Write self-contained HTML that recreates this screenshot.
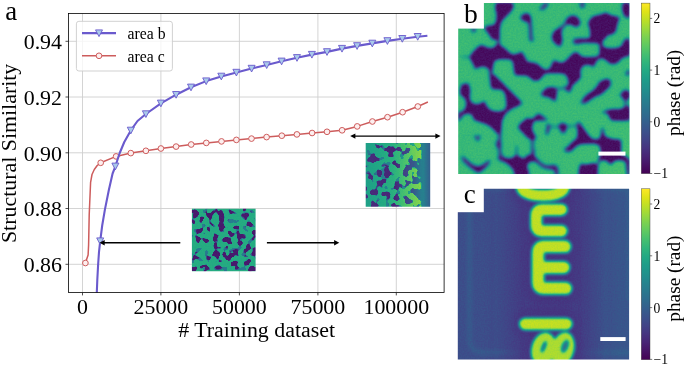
<!DOCTYPE html>
<html><head><meta charset="utf-8"><title>figure</title>
<style>
html,body{margin:0;padding:0;background:#fff;}
body{width:685px;height:365px;overflow:hidden;position:relative;font-family:"Liberation Serif",serif;}
svg{position:absolute;left:0;top:0;}
text{font-family:"Liberation Serif",serif;fill:#000;}
</style></head><body>
<svg width="685" height="365" viewBox="0 0 685 365">
<defs>
<linearGradient id="vir" x1="0" y1="1" x2="0" y2="0">
<stop offset="0.000" stop-color="#440154"/><stop offset="0.050" stop-color="#471365"/><stop offset="0.100" stop-color="#482475"/><stop offset="0.150" stop-color="#463480"/><stop offset="0.200" stop-color="#414487"/><stop offset="0.250" stop-color="#3b528b"/><stop offset="0.300" stop-color="#355f8d"/><stop offset="0.350" stop-color="#2f6c8e"/><stop offset="0.400" stop-color="#2a788e"/><stop offset="0.450" stop-color="#25848e"/><stop offset="0.500" stop-color="#21918c"/><stop offset="0.550" stop-color="#1e9c89"/><stop offset="0.600" stop-color="#22a884"/><stop offset="0.650" stop-color="#2fb47c"/><stop offset="0.700" stop-color="#44bf70"/><stop offset="0.750" stop-color="#5ec962"/><stop offset="0.800" stop-color="#7ad151"/><stop offset="0.850" stop-color="#9bd93c"/><stop offset="0.900" stop-color="#bddf26"/><stop offset="0.950" stop-color="#dfe318"/><stop offset="1.000" stop-color="#fde725"/>
</linearGradient>
<filter id="cmC" x="0" y="0" width="1" height="1" filterUnits="objectBoundingBox" color-interpolation-filters="sRGB"><feGaussianBlur in="SourceGraphic" stdDeviation="1.45" result="bl"/><feTurbulence type="fractalNoise" baseFrequency="0.70" numOctaves="2" seed="3" result="nz"/><feColorMatrix in="nz" type="matrix" values="0.060 0 0 0 0.470  0.060 0 0 0 0.470  0.060 0 0 0 0.470  0 0 0 0 1" result="nz2"/><feComposite in="bl" in2="nz2" operator="arithmetic" k1="0" k2="1" k3="1" k4="-0.5" result="bl2"/><feComponentTransfer><feFuncR type="table" tableValues="0.267 0.277 0.282 0.283 0.279 0.271 0.259 0.245 0.230 0.214 0.199 0.186 0.173 0.161 0.149 0.138 0.128 0.121 0.121 0.132 0.158 0.197 0.246 0.304 0.369 0.440 0.516 0.596 0.678 0.762 0.846 0.926 0.993"/><feFuncG type="table" tableValues="0.005 0.050 0.095 0.136 0.175 0.214 0.252 0.288 0.322 0.356 0.388 0.419 0.449 0.479 0.508 0.537 0.567 0.596 0.626 0.655 0.684 0.712 0.739 0.765 0.789 0.811 0.831 0.849 0.864 0.876 0.887 0.897 0.906"/><feFuncB type="table" tableValues="0.329 0.376 0.417 0.453 0.483 0.507 0.525 0.537 0.546 0.551 0.555 0.557 0.558 0.558 0.557 0.555 0.551 0.544 0.533 0.520 0.502 0.479 0.452 0.420 0.383 0.341 0.294 0.243 0.190 0.137 0.100 0.104 0.144"/><feFuncA type="linear" slope="0" intercept="1"/></feComponentTransfer></filter><clipPath id="clipC"><rect x="457.8" y="188.7" width="171.3" height="170.9"/></clipPath><filter id="haloC" x="-0.5" y="-0.5" width="2" height="2"><feGaussianBlur stdDeviation="3.2"/></filter><filter id="bandC" x="-1" y="-0.2" width="3" height="1.4"><feGaussianBlur stdDeviation="11"/></filter><filter id="frameC" x="-0.2" y="-0.2" width="1.4" height="1.4"><feGaussianBlur stdDeviation="1.6"/></filter><linearGradient id="bgC" x1="0" y1="0" x2="1" y2="0"><stop offset="0" stop-color="#3b3b3b"/><stop offset="0.5" stop-color="#3e3e3e"/><stop offset="1" stop-color="#444444"/></linearGradient><filter id="cmB" x="0" y="0" width="1" height="1" filterUnits="objectBoundingBox" color-interpolation-filters="sRGB"><feGaussianBlur in="SourceGraphic" stdDeviation="0.90" result="bl"/><feTurbulence type="fractalNoise" baseFrequency="0.60" numOctaves="2" seed="5" result="nz"/><feColorMatrix in="nz" type="matrix" values="0.080 0 0 0 0.460  0.080 0 0 0 0.460  0.080 0 0 0 0.460  0 0 0 0 1" result="nz2"/><feComposite in="bl" in2="nz2" operator="arithmetic" k1="0" k2="1" k3="1" k4="-0.5" result="bl2"/><feComponentTransfer><feFuncR type="table" tableValues="0.267 0.277 0.282 0.283 0.279 0.271 0.259 0.245 0.230 0.214 0.199 0.186 0.173 0.161 0.149 0.138 0.128 0.121 0.121 0.132 0.158 0.197 0.246 0.304 0.369 0.440 0.516 0.596 0.678 0.762 0.846 0.926 0.993"/><feFuncG type="table" tableValues="0.005 0.050 0.095 0.136 0.175 0.214 0.252 0.288 0.322 0.356 0.388 0.419 0.449 0.479 0.508 0.537 0.567 0.596 0.626 0.655 0.684 0.712 0.739 0.765 0.789 0.811 0.831 0.849 0.864 0.876 0.887 0.897 0.906"/><feFuncB type="table" tableValues="0.329 0.376 0.417 0.453 0.483 0.507 0.525 0.537 0.546 0.551 0.555 0.557 0.558 0.558 0.557 0.555 0.551 0.544 0.533 0.520 0.502 0.479 0.452 0.420 0.383 0.341 0.294 0.243 0.190 0.137 0.100 0.104 0.144"/><feFuncA type="linear" slope="0" intercept="1"/></feComponentTransfer></filter><clipPath id="clipB"><rect x="458.2" y="3.0" width="171.3" height="171.0"/></clipPath><clipPath id="clipBt"><rect x="440" y="75" width="210" height="9"/></clipPath><clipPath id="clipBtt"><rect x="440" y="-10" width="210" height="85"/></clipPath><clipPath id="clipBb"><rect x="440" y="84" width="210" height="110"/></clipPath><filter id="thB" x="0" y="0" width="1" height="1" color-interpolation-filters="sRGB"><feGaussianBlur stdDeviation="1.5"/><feComponentTransfer><feFuncR type="linear" slope="1.90" intercept="-0.735"/><feFuncG type="linear" slope="1.90" intercept="-0.735"/><feFuncB type="linear" slope="1.90" intercept="-0.735"/><feFuncA type="linear" slope="0" intercept="1"/></feComponentTransfer></filter><mask id="mB" maskUnits="userSpaceOnUse" x="450.2" y="-5.0" width="187.3" height="187.0"><g filter="url(#thB)"><rect x="450.2" y="-5.0" width="187.3" height="187.0" fill="#fff"/><g clip-path="url(#clipBt)"><g fill="#000" stroke="#000" stroke-width="1.0" stroke-linejoin="round"><path d="M495.1 3.0 512.9 3.0 512.2 8.5 508.3 14.2 503.3 18.6 500.1 24.1 499.4 33.4 500.1 42.0 502.0 47.5 497.0 48.3 497.0 42.8 495.5 38.1 491.6 35.0 486.9 33.4 484.1 31.9 484.1 24.9 486.9 23.0 491.6 23.0 496.2 20.9 498.0 16.3 497.0 9.2z"/><path d="M497.0 48.0 502.0 47.5 504.8 49.8 510.3 53.7 518.1 53.3 522.0 55.3 525.1 60.0 509.5 60.0 507.9 57.9 501.7 57.6 495.5 58.4 493.1 60.0 459.6 60.0 460.3 56.8 465.0 55.3 470.5 52.9 475.2 49.0 479.9 45.9 483.8 45.1 487.7 48.3 493.1 49.4z"/><path d="M524.3 15.8 527.8 14.7 529.8 18.6 530.7 26.4 532.3 34.2 535.6 39.7 533.2 41.6 529.2 38.1 527.5 31.1 526.7 23.3 524.6 19.4z"/><path d="M539.2 10.0 544.0 5.3 544.0 3.0 545.4 3.0 545.4 10.8 541.5 12.4z"/><path d="M544.0 3.0 549.5 3.0 547.9 7.7 544.0 10.8z"/><path d="M590.8 18.6 595.5 16.3 603.3 14.7 609.6 13.1 614.2 15.5 618.1 17.8 620.5 12.4 621.6 7.7 622.0 3.0 631.4 3.0 631.4 17.4 625.2 18.1 620.5 18.6 617.0 23.3 615.0 29.5 611.9 32.7 605.7 34.2 602.1 38.1 601.4 42.8 604.1 47.0 609.6 48.9 617.4 48.6 622.8 45.9 625.9 43.9 631.4 43.3 631.4 54.8 625.2 55.6 620.5 57.2 618.9 60.0 607.2 60.0 605.7 57.6 602.1 60.7 601.1 52.9 601.1 44.4 597.8 41.2 593.2 39.7 590.8 36.6 591.6 31.1 591.1 24.9z"/><path d="M564.3 20.2 569.0 17.4 575.2 17.0 579.1 19.4 580.7 22.5 577.6 24.1 575.2 26.4 571.3 24.9 567.4 24.1 562.7 25.6 560.1 29.5 559.6 34.2 561.2 38.1 561.9 42.0 560.4 45.9 558.8 47.5 555.7 45.9 553.4 42.0 552.6 36.6 553.4 31.9 556.5 28.0 560.4 23.3z"/><path d="M574.4 39.2 577.6 39.2 578.0 42.5 574.7 42.8z"/><path d="M569.0 60.0 569.8 55.3 572.9 52.2 576.5 51.1 579.1 53.7 582.2 60.7 589.3 56.5 595.5 56.8 597.8 58.4 596.3 60.0z"/><path d="M544.0 48.3 548.7 49.8 551.8 54.5 552.6 60.0 544.0 60.0z"/><path d="M472.8 60.0 493.1 60.0 492.6 66.2 493.6 71.7 493.1 75.6 490.0 75.6 490.0 69.4 486.1 66.6 482.2 65.6 478.3 66.2 474.4 65.5z"/><path d="M490.5 74.8 493.1 74.4 498.6 80.3 504.8 85.8 511.1 92.0 516.5 98.2 520.7 104.0 515.7 107.6 511.1 110.7 507.6 113.8 506.9 106.8 506.7 99.0 504.0 92.8 500.1 89.7 495.5 88.1 491.6 87.3 491.1 81.9z"/><path d="M460.8 89.7 464.2 85.8 468.1 83.7 472.0 85.0 474.4 88.4 471.3 91.2 469.7 95.9 470.2 100.9 472.8 104.5 477.5 106.5 483.8 106.0 486.1 108.4 489.2 111.5 494.7 117.7 500.1 113.8 502.5 115.4 502.5 117.0 474.4 117.0 472.8 114.6 468.1 113.5 464.2 114.6 461.1 117.0 459.2 117.0 459.2 117.7 461.9 111.5 465.8 106.8 466.6 102.1 465.0 97.5 461.9 95.1 459.9 93.6z"/><path d="M512.6 60.0 515.0 66.2 518.9 70.9 525.1 74.0 529.8 76.4 533.7 80.0 538.4 80.0 541.5 76.4 544.0 74.8 544.0 69.4 537.6 65.5 531.4 62.3 526.7 60.0z"/><path d="M544.0 92.0 540.7 93.6 538.4 96.7 540.7 99.0 544.0 99.8z"/><path d="M544.0 117.7 540.7 114.3 538.4 117.0 544.0 117.0z"/><path d="M551.0 60.0 558.4 60.0 559.6 61.9 562.7 62.8 566.2 61.9 567.4 60.0 595.5 60.0 594.7 64.7 593.2 68.6 590.0 66.2 585.4 65.5 581.5 67.0 579.9 70.9 580.7 75.6 578.3 79.5 574.4 82.6 572.1 86.5 570.8 89.7 569.0 87.3 569.3 81.1 568.2 76.4 564.3 73.7 556.5 73.3 548.7 72.8 544.0 72.2 544.0 70.6 551.0 68.6 551.8 63.1z"/><path d="M544.0 87.8 550.2 86.8 555.7 88.1 557.3 91.2 555.7 95.1 554.9 99.8 552.6 102.9 547.9 104.5 544.0 103.7z"/><path d="M583.0 101.4 586.9 96.7 590.8 92.0 594.7 87.3 598.6 83.4 604.1 80.3 608.8 79.5 610.3 81.9 608.0 85.8 604.9 89.7 601.0 93.6 596.3 96.7 590.8 99.8 586.9 102.5 583.8 102.9z"/><path d="M631.4 88.9 625.2 90.4 622.0 93.6 621.3 98.2 622.8 102.9 625.9 106.0 631.4 106.8z"/><path d="M631.4 109.6 625.2 110.3 618.9 109.6 613.5 109.2 610.3 110.7 608.8 113.8 609.6 117.0 631.4 117.0z"/><path d="M607.2 60.0 608.8 62.3 612.7 63.4 616.6 62.3 617.7 60.0z"/><path d="M544.0 117.7 547.1 113.8 548.7 117.0 544.0 117.0z"/></g></g><g clip-path="url(#clipBtt)"><g fill="#000" stroke="#000" stroke-width="0.6" stroke-linejoin="round"><path d="M496.2 3.0 512.6 3.0 513.1 7.0 510.6 10.9 506.7 14.9 502.7 18.9 500.2 22.9 499.2 27.8 498.9 32.8 499.2 39.0 492.3 39.0 490.8 35.8 487.8 31.8 485.3 29.0 484.3 27.8 486.8 26.6 490.8 26.3 494.7 25.3 496.5 22.4 497.2 17.9 497.2 12.9 495.7 8.0z"/><path d="M470.9 28.6 476.4 28.6 473.7 32.8z"/><path d="M520.1 17.4 523.5 14.4 526.0 13.9 526.0 20.9 523.5 20.4z"/><path d="M526.0 13.4 529.0 14.4 530.5 17.9 530.0 22.4 528.0 21.4 526.0 20.9z"/><path d="M539.4 9.0 541.9 7.0 544.4 4.0 545.9 3.0 548.3 3.0 546.4 6.5 543.4 9.0 540.9 10.0z"/><path d="M580.1 3.0 584.6 3.0 583.6 7.0 582.1 7.5z"/><path d="M566.2 20.4 568.7 17.4 572.7 15.9 576.6 16.9 579.1 20.4 580.1 23.9 578.1 25.3 576.1 27.3 574.2 25.3 571.2 23.9 567.7 23.4 565.7 22.9z"/><path d="M552.3 39.0 553.0 34.3 555.3 30.8 559.3 28.3 562.7 25.3 565.7 22.9 567.7 23.4 565.2 25.3 562.2 28.3 560.8 31.8 561.0 35.8 561.7 39.0z"/><path d="M594.0 15.9 591.0 19.4 588.4 22.9 589.6 25.3 591.0 28.8 591.3 32.8 590.5 39.7 591.5 39.0 594.0 39.0z"/><path d="M588.8 23.4 591.8 18.4 596.8 16.1 601.7 15.1 605.7 12.9 608.7 14.9 612.6 16.4 616.6 16.9 619.6 17.9 617.1 21.9 616.1 26.8 615.1 31.8 611.7 33.8 606.7 34.8 603.7 39.7 601.7 39.0 592.8 39.0 591.8 39.7 591.0 31.8 590.3 27.8z"/><path d="M623.1 3.0 629.5 3.0 629.5 17.9 625.6 16.9 623.6 12.9 622.6 8.0z"/><path d="M579.9 3.0 583.8 3.0 582.9 7.5 581.4 8.0z"/><path d="M469.9 57.1 473.9 51.9 476.9 48.4 481.3 45.2 484.8 47.1 487.8 48.5 491.8 48.9 495.2 47.4 497.5 44.5 497.7 39.0 498.9 39.0 499.2 44.5 500.7 46.4 504.7 48.9 507.7 51.9 510.6 54.4 514.6 55.4 518.6 53.9 521.6 51.9 523.5 55.9 526.0 60.4 526.0 75.0 515.1 75.0 514.6 68.8 513.8 62.3 512.1 59.4 507.7 58.4 499.7 58.4 495.2 59.4 493.0 62.3 492.3 66.8 492.0 70.8 491.8 75.0 490.0 75.0 489.8 70.0 487.8 67.0 482.8 65.6 477.9 67.0 475.4 69.3 474.4 65.0 471.9 60.4z"/><path d="M552.8 39.0 561.7 39.0 561.3 43.0 560.3 46.4 557.8 45.0 554.8 42.5z"/><path d="M573.2 40.0 576.1 39.0 578.1 41.0 576.6 44.0 574.2 43.5z"/><path d="M530.0 39.0 533.4 39.0 532.5 41.2 530.5 41.0z"/><path d="M526.0 62.6 532.0 63.0 536.9 64.3 540.4 67.3 543.4 69.8 546.4 70.6 549.8 69.3 552.0 66.3 553.0 62.3 554.8 60.4 557.8 62.8 561.7 63.8 565.7 62.8 568.7 59.9 570.7 56.4 573.7 53.9 575.7 52.4 578.1 53.9 579.6 56.4 583.6 57.9 589.6 58.1 594.0 57.4 594.0 64.3 589.6 63.3 584.6 63.8 581.1 66.3 579.6 69.8 579.1 75.0 567.7 75.0 565.7 73.3 560.8 72.6 550.8 72.6 543.9 73.3 540.9 75.0 526.0 75.0z"/><path d="M576.9 39.0 601.7 39.0 601.7 44.5 600.2 45.0 599.5 43.2 596.8 42.2 581.9 42.2 579.1 43.5 576.9 42.0z"/><path d="M600.0 39.0 601.5 39.0 601.7 44.5 603.7 48.1 608.7 48.9 615.6 48.9 620.6 47.4 623.1 45.0 624.1 42.0 625.6 39.0 629.5 39.0 629.5 55.4 625.6 55.9 621.6 57.4 619.1 60.4 616.6 62.8 612.6 63.8 609.7 62.8 607.2 60.4 604.7 58.4 601.7 57.4 600.7 54.9 600.2 50.9 600.2 45.0z"/><path d="M562.0 63.8 565.0 62.3 568.0 59.4 570.7 56.4 573.7 53.9 575.7 52.4 578.2 53.9 579.7 56.4 583.6 57.9 589.6 58.1 594.8 57.9 600.2 54.9 601.7 57.4 598.7 58.4 596.3 60.4 594.3 63.8 593.6 67.3 591.8 65.0 587.8 63.8 583.8 64.6 580.9 66.8 579.4 70.8 578.9 75.0 567.0 75.0 566.0 73.3 562.0 72.6z"/><path d="M625.6 75.0 626.5 71.8 629.5 70.3 629.5 75.0z"/></g><path fill="none" stroke="#000" stroke-width="2.6" stroke-linecap="round" stroke-linejoin="round" d="M529.0 17.9 529.8 21.9 530.5 28.8 531.0 39.7 531.8 39.7"/><path fill="none" stroke="#777" stroke-width="1.8" stroke-linecap="round" stroke-linejoin="round" d="M461.0 57.1 469.9 57.1"/></g><g clip-path="url(#clipBb)"><g fill="#000" stroke="#000" stroke-width="0.6" stroke-linejoin="round"><path d="M462.5 84.0 467.9 84.0 469.1 88.0 469.7 91.4 468.9 95.4 469.4 100.4 471.9 103.7 475.4 105.1 479.4 104.7 482.3 102.9 484.3 100.9 485.3 104.9 487.8 108.8 491.8 111.5 497.7 112.5 502.7 111.6 506.2 109.0 507.2 105.4 506.9 100.4 506.2 95.4 504.7 91.7 502.2 89.2 497.7 88.5 492.8 88.8 491.3 87.0 491.3 84.0 502.7 84.0 507.7 89.0 513.6 94.9 518.6 99.9 522.1 103.4 517.6 105.4 512.6 107.5 507.7 111.0 503.9 115.0 501.7 120.0 475.4 120.0 474.9 120.7 472.9 114.3 468.9 112.8 465.0 113.3 462.0 115.3 460.5 118.3 460.0 120.0 458.0 120.0 458.0 113.3 459.5 112.6 462.0 112.3 465.4 109.8 466.9 105.8 466.7 100.9 465.0 97.4 462.0 95.4 460.5 93.9 460.8 90.0 461.5 87.0z"/><path d="M540.9 93.9 543.9 91.4 546.4 88.5 551.8 87.5 555.8 88.5 556.3 91.9 555.8 96.9 555.3 101.4 553.8 100.4 550.8 97.4 546.9 95.9 542.9 95.9z"/><path d="M564.2 88.0 567.7 86.0 570.2 84.0 572.2 84.0 571.2 88.0 569.7 92.4 567.2 90.5z"/><path d="M581.1 102.4 583.6 98.9 586.1 95.9 589.6 93.4 594.0 91.0 594.0 96.9 590.5 98.9 586.6 101.9 583.1 103.4z"/><path d="M526.0 118.3 532.0 120.7 535.9 116.3 538.9 113.8 541.9 116.3 545.9 118.8 547.8 120.0 526.0 120.0z"/><path d="M581.4 102.9 583.4 99.9 586.3 96.9 589.8 93.9 593.8 91.0 596.3 88.0 598.2 85.5 600.7 84.0 610.7 84.0 608.7 87.0 605.7 89.5 602.7 92.4 599.7 94.4 595.8 95.4 591.8 96.9 588.3 99.4 585.3 101.9 582.9 103.4z"/><path d="M620.1 94.9 623.1 91.9 625.6 90.0 628.0 91.0 629.5 92.9 629.5 96.9 627.5 98.9 625.6 101.4 624.1 98.9 622.1 96.4z"/><path d="M601.7 112.3 608.7 110.3 613.6 109.8 619.6 110.0 624.1 108.3 626.5 106.8 629.5 106.3 629.5 120.0 611.7 120.0 609.7 116.8 608.7 113.3z"/><path d="M475.4 118.0 501.2 118.0 501.0 125.0 500.5 131.9 497.7 133.4 494.9 130.1 491.8 127.1 487.8 124.2 482.8 122.2 477.9 120.7z"/><path d="M496.5 141.8 500.5 141.6 500.9 147.8 498.2 148.3 496.7 145.8z"/><path d="M474.4 136.4 480.3 135.9 477.9 141.3z"/><path d="M518.2 127.1 522.2 122.4 527.2 119.9 532.6 119.4 536.1 117.0 538.6 114.5 540.1 117.0 537.1 118.9 533.1 121.4 531.1 124.9 530.8 128.9 532.6 133.3 534.4 136.8 533.6 139.8 531.6 139.3 528.7 137.8 525.2 134.3 521.7 130.9z"/><path d="M526.0 120.0 530.0 119.5 532.2 123.0 531.0 127.4 531.8 131.9 534.7 135.7 535.9 137.9 533.4 139.4 530.5 137.9 528.0 136.4 526.0 135.9z"/><path d="M547.1 124.0 549.8 125.0 549.3 128.9 548.0 132.9 546.4 135.4 545.9 132.9 547.1 128.9z"/><path d="M558.8 125.4 562.7 123.0 566.7 125.4 565.7 129.9 563.2 133.9 560.8 129.9z"/><path d="M576.9 123.5 579.4 122.5 581.9 126.9 585.3 131.9 588.8 136.4 591.8 139.4 595.8 141.3 598.7 140.3 601.2 136.9 601.7 130.9 602.2 127.4 602.9 127.4 603.5 131.9 604.2 136.4 606.7 137.9 611.7 139.4 616.1 141.3 619.1 144.3 620.1 148.8 620.4 154.7 601.7 154.7 601.2 147.0 598.7 144.2 594.8 143.0 589.8 142.8 583.8 143.0 579.4 143.6 576.9 145.3 572.9 147.8 569.0 150.8 566.5 151.6 566.0 149.8 570.4 146.8 573.9 143.8 575.9 141.8 577.9 137.4 578.4 132.9 577.9 127.9z"/><path d="M610.7 118.0 629.5 118.0 629.5 119.0 617.6 119.2 611.7 118.8z"/><path d="M461.5 156.4 464.0 157.4 467.9 161.4 472.9 165.3 477.4 167.3 481.8 166.0 485.8 163.0 488.8 160.4 490.3 161.4 487.8 164.8 484.3 168.3 480.3 171.3 478.4 172.8 476.4 171.3 471.9 168.3 466.9 164.3 463.0 160.4z"/><path d="M499.7 154.9 502.2 157.4 505.7 158.9 510.6 159.4 515.1 157.9 517.1 154.9 518.6 157.4 522.5 159.1 526.0 159.4 526.0 176.7 516.6 176.7 515.1 169.8 511.6 166.0 507.7 163.0 503.7 161.1 500.2 159.9 498.2 158.4z"/><path d="M497.9 159.1 501.1 155.9 504.8 158.5 509.8 159.5 513.8 158.1 516.5 154.9 519.3 158.1 523.7 159.6 528.7 158.9 531.6 159.4 527.7 162.0 526.2 165.8 526.7 169.8 528.7 176.7 515.7 176.7 514.3 169.8 510.8 165.8 506.8 162.3 502.8 160.4z"/><path d="M526.0 156.4 531.0 154.9 533.9 156.4 536.9 158.9 540.9 163.3 545.9 166.0 550.8 166.0 554.8 165.3 557.3 167.3 558.3 176.7 555.8 176.7 555.3 170.3 551.8 168.8 545.9 168.3 540.9 166.0 536.9 162.3 533.9 160.4 530.0 161.4 526.0 162.8z"/><path d="M564.2 150.4 567.7 149.1 570.5 146.2 572.7 143.5 575.7 141.2 577.6 140.0 594.0 140.0 594.0 142.5 585.6 142.8 579.6 143.0 576.1 144.5 573.7 147.4 571.7 150.4 567.7 151.4z"/><path d="M579.1 176.7 579.6 168.8 581.6 165.8 585.6 165.3 589.6 164.8 594.0 163.3 594.0 176.7z"/><path d="M526.0 169.8 528.0 170.3 528.5 176.7 526.0 176.7z"/><path d="M575.9 140.0 620.6 140.0 620.1 151.7 601.7 151.7 601.7 147.0 599.7 144.0 596.8 142.8 577.9 142.5 573.9 144.5 570.9 147.9 568.0 149.9 565.5 150.4 565.0 148.9 569.0 146.5 571.9 143.0z"/><path d="M580.4 176.7 579.9 168.8 580.9 163.8 583.4 165.0 588.8 166.0 594.8 165.3 597.9 163.0 598.9 159.9 600.2 155.9 625.6 155.9 627.0 159.9 625.6 161.4 621.6 159.6 616.6 159.6 613.1 161.1 610.7 164.8 608.2 161.1 604.7 159.6 600.7 160.1 598.2 163.5 597.0 167.8 597.3 176.7z"/><path d="M627.0 159.4 629.5 158.9 629.5 176.7 627.5 176.7 626.5 165.8z"/></g><path fill="none" stroke="#555" stroke-width="2.0" stroke-linecap="round" stroke-linejoin="round" d="M555.8 89.0 564.2 88.2"/><path fill="none" stroke="#444" stroke-width="2.2" stroke-linecap="round" stroke-linejoin="round" d="M625.6 101.4 625.6 107.8"/><path fill="none" stroke="#111" stroke-width="2.5" stroke-linecap="round" stroke-linejoin="round" d="M499.7 131.9 499.8 137.9 498.9 142.3"/><path fill="none" stroke="#333" stroke-width="2.3" stroke-linecap="round" stroke-linejoin="round" d="M499.5 147.8 499.7 154.0"/><path fill="none" stroke="#333" stroke-width="2.3" stroke-linecap="round" stroke-linejoin="round" d="M499.7 147.9 500.7 154.9"/><path fill="none" stroke="#555" stroke-width="2.0" stroke-linecap="round" stroke-linejoin="round" d="M516.5 154.9 516.7 146.0"/><path fill="none" stroke="#444" stroke-width="2.2" stroke-linecap="round" stroke-linejoin="round" d="M531.6 158.9 534.1 152.9 532.6 146.0 532.8 140.0"/><path fill="none" stroke="#666" stroke-width="1.9" stroke-linecap="round" stroke-linejoin="round" d="M549.8 126.4 558.8 126.9"/><path fill="none" stroke="#666" stroke-width="1.9" stroke-linecap="round" stroke-linejoin="round" d="M566.7 126.4 577.6 125.9"/><path fill="none" stroke="#444" stroke-width="2.2" stroke-linecap="round" stroke-linejoin="round" d="M532.2 140.0 532.2 154.9"/><path fill="none" stroke="#bbb" stroke-width="1.5" stroke-linecap="round" stroke-linejoin="round" d="M463.0 136.4 463.0 154.0"/><path fill="none" stroke="#bbb" stroke-width="1.5" stroke-linecap="round" stroke-linejoin="round" d="M463.0 135.9 482.8 135.5"/></g></g></mask><filter id="thB2" x="0" y="0" width="1" height="1" color-interpolation-filters="sRGB"><feGaussianBlur stdDeviation="3.0"/><feComponentTransfer><feFuncR type="linear" slope="1.60" intercept="-0.780"/><feFuncG type="linear" slope="1.60" intercept="-0.780"/><feFuncB type="linear" slope="1.60" intercept="-0.780"/><feFuncA type="linear" slope="0" intercept="1"/></feComponentTransfer></filter><mask id="mB2" maskUnits="userSpaceOnUse" x="450.2" y="-5.0" width="187.3" height="187.0"><g filter="url(#thB2)"><rect x="450.2" y="-5.0" width="187.3" height="187.0" fill="#fff"/><g clip-path="url(#clipBt)"><g fill="#000" stroke="#000" stroke-width="1.0" stroke-linejoin="round"><path d="M495.1 3.0 512.9 3.0 512.2 8.5 508.3 14.2 503.3 18.6 500.1 24.1 499.4 33.4 500.1 42.0 502.0 47.5 497.0 48.3 497.0 42.8 495.5 38.1 491.6 35.0 486.9 33.4 484.1 31.9 484.1 24.9 486.9 23.0 491.6 23.0 496.2 20.9 498.0 16.3 497.0 9.2z"/><path d="M497.0 48.0 502.0 47.5 504.8 49.8 510.3 53.7 518.1 53.3 522.0 55.3 525.1 60.0 509.5 60.0 507.9 57.9 501.7 57.6 495.5 58.4 493.1 60.0 459.6 60.0 460.3 56.8 465.0 55.3 470.5 52.9 475.2 49.0 479.9 45.9 483.8 45.1 487.7 48.3 493.1 49.4z"/><path d="M524.3 15.8 527.8 14.7 529.8 18.6 530.7 26.4 532.3 34.2 535.6 39.7 533.2 41.6 529.2 38.1 527.5 31.1 526.7 23.3 524.6 19.4z"/><path d="M539.2 10.0 544.0 5.3 544.0 3.0 545.4 3.0 545.4 10.8 541.5 12.4z"/><path d="M544.0 3.0 549.5 3.0 547.9 7.7 544.0 10.8z"/><path d="M590.8 18.6 595.5 16.3 603.3 14.7 609.6 13.1 614.2 15.5 618.1 17.8 620.5 12.4 621.6 7.7 622.0 3.0 631.4 3.0 631.4 17.4 625.2 18.1 620.5 18.6 617.0 23.3 615.0 29.5 611.9 32.7 605.7 34.2 602.1 38.1 601.4 42.8 604.1 47.0 609.6 48.9 617.4 48.6 622.8 45.9 625.9 43.9 631.4 43.3 631.4 54.8 625.2 55.6 620.5 57.2 618.9 60.0 607.2 60.0 605.7 57.6 602.1 60.7 601.1 52.9 601.1 44.4 597.8 41.2 593.2 39.7 590.8 36.6 591.6 31.1 591.1 24.9z"/><path d="M564.3 20.2 569.0 17.4 575.2 17.0 579.1 19.4 580.7 22.5 577.6 24.1 575.2 26.4 571.3 24.9 567.4 24.1 562.7 25.6 560.1 29.5 559.6 34.2 561.2 38.1 561.9 42.0 560.4 45.9 558.8 47.5 555.7 45.9 553.4 42.0 552.6 36.6 553.4 31.9 556.5 28.0 560.4 23.3z"/><path d="M574.4 39.2 577.6 39.2 578.0 42.5 574.7 42.8z"/><path d="M569.0 60.0 569.8 55.3 572.9 52.2 576.5 51.1 579.1 53.7 582.2 60.7 589.3 56.5 595.5 56.8 597.8 58.4 596.3 60.0z"/><path d="M544.0 48.3 548.7 49.8 551.8 54.5 552.6 60.0 544.0 60.0z"/><path d="M472.8 60.0 493.1 60.0 492.6 66.2 493.6 71.7 493.1 75.6 490.0 75.6 490.0 69.4 486.1 66.6 482.2 65.6 478.3 66.2 474.4 65.5z"/><path d="M490.5 74.8 493.1 74.4 498.6 80.3 504.8 85.8 511.1 92.0 516.5 98.2 520.7 104.0 515.7 107.6 511.1 110.7 507.6 113.8 506.9 106.8 506.7 99.0 504.0 92.8 500.1 89.7 495.5 88.1 491.6 87.3 491.1 81.9z"/><path d="M460.8 89.7 464.2 85.8 468.1 83.7 472.0 85.0 474.4 88.4 471.3 91.2 469.7 95.9 470.2 100.9 472.8 104.5 477.5 106.5 483.8 106.0 486.1 108.4 489.2 111.5 494.7 117.7 500.1 113.8 502.5 115.4 502.5 117.0 474.4 117.0 472.8 114.6 468.1 113.5 464.2 114.6 461.1 117.0 459.2 117.0 459.2 117.7 461.9 111.5 465.8 106.8 466.6 102.1 465.0 97.5 461.9 95.1 459.9 93.6z"/><path d="M512.6 60.0 515.0 66.2 518.9 70.9 525.1 74.0 529.8 76.4 533.7 80.0 538.4 80.0 541.5 76.4 544.0 74.8 544.0 69.4 537.6 65.5 531.4 62.3 526.7 60.0z"/><path d="M544.0 92.0 540.7 93.6 538.4 96.7 540.7 99.0 544.0 99.8z"/><path d="M544.0 117.7 540.7 114.3 538.4 117.0 544.0 117.0z"/><path d="M551.0 60.0 558.4 60.0 559.6 61.9 562.7 62.8 566.2 61.9 567.4 60.0 595.5 60.0 594.7 64.7 593.2 68.6 590.0 66.2 585.4 65.5 581.5 67.0 579.9 70.9 580.7 75.6 578.3 79.5 574.4 82.6 572.1 86.5 570.8 89.7 569.0 87.3 569.3 81.1 568.2 76.4 564.3 73.7 556.5 73.3 548.7 72.8 544.0 72.2 544.0 70.6 551.0 68.6 551.8 63.1z"/><path d="M544.0 87.8 550.2 86.8 555.7 88.1 557.3 91.2 555.7 95.1 554.9 99.8 552.6 102.9 547.9 104.5 544.0 103.7z"/><path d="M583.0 101.4 586.9 96.7 590.8 92.0 594.7 87.3 598.6 83.4 604.1 80.3 608.8 79.5 610.3 81.9 608.0 85.8 604.9 89.7 601.0 93.6 596.3 96.7 590.8 99.8 586.9 102.5 583.8 102.9z"/><path d="M631.4 88.9 625.2 90.4 622.0 93.6 621.3 98.2 622.8 102.9 625.9 106.0 631.4 106.8z"/><path d="M631.4 109.6 625.2 110.3 618.9 109.6 613.5 109.2 610.3 110.7 608.8 113.8 609.6 117.0 631.4 117.0z"/><path d="M607.2 60.0 608.8 62.3 612.7 63.4 616.6 62.3 617.7 60.0z"/><path d="M544.0 117.7 547.1 113.8 548.7 117.0 544.0 117.0z"/></g></g><g clip-path="url(#clipBtt)"><g fill="#000" stroke="#000" stroke-width="0.6" stroke-linejoin="round"><path d="M496.2 3.0 512.6 3.0 513.1 7.0 510.6 10.9 506.7 14.9 502.7 18.9 500.2 22.9 499.2 27.8 498.9 32.8 499.2 39.0 492.3 39.0 490.8 35.8 487.8 31.8 485.3 29.0 484.3 27.8 486.8 26.6 490.8 26.3 494.7 25.3 496.5 22.4 497.2 17.9 497.2 12.9 495.7 8.0z"/><path d="M470.9 28.6 476.4 28.6 473.7 32.8z"/><path d="M520.1 17.4 523.5 14.4 526.0 13.9 526.0 20.9 523.5 20.4z"/><path d="M526.0 13.4 529.0 14.4 530.5 17.9 530.0 22.4 528.0 21.4 526.0 20.9z"/><path d="M539.4 9.0 541.9 7.0 544.4 4.0 545.9 3.0 548.3 3.0 546.4 6.5 543.4 9.0 540.9 10.0z"/><path d="M580.1 3.0 584.6 3.0 583.6 7.0 582.1 7.5z"/><path d="M566.2 20.4 568.7 17.4 572.7 15.9 576.6 16.9 579.1 20.4 580.1 23.9 578.1 25.3 576.1 27.3 574.2 25.3 571.2 23.9 567.7 23.4 565.7 22.9z"/><path d="M552.3 39.0 553.0 34.3 555.3 30.8 559.3 28.3 562.7 25.3 565.7 22.9 567.7 23.4 565.2 25.3 562.2 28.3 560.8 31.8 561.0 35.8 561.7 39.0z"/><path d="M594.0 15.9 591.0 19.4 588.4 22.9 589.6 25.3 591.0 28.8 591.3 32.8 590.5 39.7 591.5 39.0 594.0 39.0z"/><path d="M588.8 23.4 591.8 18.4 596.8 16.1 601.7 15.1 605.7 12.9 608.7 14.9 612.6 16.4 616.6 16.9 619.6 17.9 617.1 21.9 616.1 26.8 615.1 31.8 611.7 33.8 606.7 34.8 603.7 39.7 601.7 39.0 592.8 39.0 591.8 39.7 591.0 31.8 590.3 27.8z"/><path d="M623.1 3.0 629.5 3.0 629.5 17.9 625.6 16.9 623.6 12.9 622.6 8.0z"/><path d="M579.9 3.0 583.8 3.0 582.9 7.5 581.4 8.0z"/><path d="M469.9 57.1 473.9 51.9 476.9 48.4 481.3 45.2 484.8 47.1 487.8 48.5 491.8 48.9 495.2 47.4 497.5 44.5 497.7 39.0 498.9 39.0 499.2 44.5 500.7 46.4 504.7 48.9 507.7 51.9 510.6 54.4 514.6 55.4 518.6 53.9 521.6 51.9 523.5 55.9 526.0 60.4 526.0 75.0 515.1 75.0 514.6 68.8 513.8 62.3 512.1 59.4 507.7 58.4 499.7 58.4 495.2 59.4 493.0 62.3 492.3 66.8 492.0 70.8 491.8 75.0 490.0 75.0 489.8 70.0 487.8 67.0 482.8 65.6 477.9 67.0 475.4 69.3 474.4 65.0 471.9 60.4z"/><path d="M552.8 39.0 561.7 39.0 561.3 43.0 560.3 46.4 557.8 45.0 554.8 42.5z"/><path d="M573.2 40.0 576.1 39.0 578.1 41.0 576.6 44.0 574.2 43.5z"/><path d="M530.0 39.0 533.4 39.0 532.5 41.2 530.5 41.0z"/><path d="M526.0 62.6 532.0 63.0 536.9 64.3 540.4 67.3 543.4 69.8 546.4 70.6 549.8 69.3 552.0 66.3 553.0 62.3 554.8 60.4 557.8 62.8 561.7 63.8 565.7 62.8 568.7 59.9 570.7 56.4 573.7 53.9 575.7 52.4 578.1 53.9 579.6 56.4 583.6 57.9 589.6 58.1 594.0 57.4 594.0 64.3 589.6 63.3 584.6 63.8 581.1 66.3 579.6 69.8 579.1 75.0 567.7 75.0 565.7 73.3 560.8 72.6 550.8 72.6 543.9 73.3 540.9 75.0 526.0 75.0z"/><path d="M576.9 39.0 601.7 39.0 601.7 44.5 600.2 45.0 599.5 43.2 596.8 42.2 581.9 42.2 579.1 43.5 576.9 42.0z"/><path d="M600.0 39.0 601.5 39.0 601.7 44.5 603.7 48.1 608.7 48.9 615.6 48.9 620.6 47.4 623.1 45.0 624.1 42.0 625.6 39.0 629.5 39.0 629.5 55.4 625.6 55.9 621.6 57.4 619.1 60.4 616.6 62.8 612.6 63.8 609.7 62.8 607.2 60.4 604.7 58.4 601.7 57.4 600.7 54.9 600.2 50.9 600.2 45.0z"/><path d="M562.0 63.8 565.0 62.3 568.0 59.4 570.7 56.4 573.7 53.9 575.7 52.4 578.2 53.9 579.7 56.4 583.6 57.9 589.6 58.1 594.8 57.9 600.2 54.9 601.7 57.4 598.7 58.4 596.3 60.4 594.3 63.8 593.6 67.3 591.8 65.0 587.8 63.8 583.8 64.6 580.9 66.8 579.4 70.8 578.9 75.0 567.0 75.0 566.0 73.3 562.0 72.6z"/><path d="M625.6 75.0 626.5 71.8 629.5 70.3 629.5 75.0z"/></g><path fill="none" stroke="#000" stroke-width="2.6" stroke-linecap="round" stroke-linejoin="round" d="M529.0 17.9 529.8 21.9 530.5 28.8 531.0 39.7 531.8 39.7"/><path fill="none" stroke="#777" stroke-width="1.8" stroke-linecap="round" stroke-linejoin="round" d="M461.0 57.1 469.9 57.1"/></g><g clip-path="url(#clipBb)"><g fill="#000" stroke="#000" stroke-width="0.6" stroke-linejoin="round"><path d="M462.5 84.0 467.9 84.0 469.1 88.0 469.7 91.4 468.9 95.4 469.4 100.4 471.9 103.7 475.4 105.1 479.4 104.7 482.3 102.9 484.3 100.9 485.3 104.9 487.8 108.8 491.8 111.5 497.7 112.5 502.7 111.6 506.2 109.0 507.2 105.4 506.9 100.4 506.2 95.4 504.7 91.7 502.2 89.2 497.7 88.5 492.8 88.8 491.3 87.0 491.3 84.0 502.7 84.0 507.7 89.0 513.6 94.9 518.6 99.9 522.1 103.4 517.6 105.4 512.6 107.5 507.7 111.0 503.9 115.0 501.7 120.0 475.4 120.0 474.9 120.7 472.9 114.3 468.9 112.8 465.0 113.3 462.0 115.3 460.5 118.3 460.0 120.0 458.0 120.0 458.0 113.3 459.5 112.6 462.0 112.3 465.4 109.8 466.9 105.8 466.7 100.9 465.0 97.4 462.0 95.4 460.5 93.9 460.8 90.0 461.5 87.0z"/><path d="M540.9 93.9 543.9 91.4 546.4 88.5 551.8 87.5 555.8 88.5 556.3 91.9 555.8 96.9 555.3 101.4 553.8 100.4 550.8 97.4 546.9 95.9 542.9 95.9z"/><path d="M564.2 88.0 567.7 86.0 570.2 84.0 572.2 84.0 571.2 88.0 569.7 92.4 567.2 90.5z"/><path d="M581.1 102.4 583.6 98.9 586.1 95.9 589.6 93.4 594.0 91.0 594.0 96.9 590.5 98.9 586.6 101.9 583.1 103.4z"/><path d="M526.0 118.3 532.0 120.7 535.9 116.3 538.9 113.8 541.9 116.3 545.9 118.8 547.8 120.0 526.0 120.0z"/><path d="M581.4 102.9 583.4 99.9 586.3 96.9 589.8 93.9 593.8 91.0 596.3 88.0 598.2 85.5 600.7 84.0 610.7 84.0 608.7 87.0 605.7 89.5 602.7 92.4 599.7 94.4 595.8 95.4 591.8 96.9 588.3 99.4 585.3 101.9 582.9 103.4z"/><path d="M620.1 94.9 623.1 91.9 625.6 90.0 628.0 91.0 629.5 92.9 629.5 96.9 627.5 98.9 625.6 101.4 624.1 98.9 622.1 96.4z"/><path d="M601.7 112.3 608.7 110.3 613.6 109.8 619.6 110.0 624.1 108.3 626.5 106.8 629.5 106.3 629.5 120.0 611.7 120.0 609.7 116.8 608.7 113.3z"/><path d="M475.4 118.0 501.2 118.0 501.0 125.0 500.5 131.9 497.7 133.4 494.9 130.1 491.8 127.1 487.8 124.2 482.8 122.2 477.9 120.7z"/><path d="M496.5 141.8 500.5 141.6 500.9 147.8 498.2 148.3 496.7 145.8z"/><path d="M474.4 136.4 480.3 135.9 477.9 141.3z"/><path d="M518.2 127.1 522.2 122.4 527.2 119.9 532.6 119.4 536.1 117.0 538.6 114.5 540.1 117.0 537.1 118.9 533.1 121.4 531.1 124.9 530.8 128.9 532.6 133.3 534.4 136.8 533.6 139.8 531.6 139.3 528.7 137.8 525.2 134.3 521.7 130.9z"/><path d="M526.0 120.0 530.0 119.5 532.2 123.0 531.0 127.4 531.8 131.9 534.7 135.7 535.9 137.9 533.4 139.4 530.5 137.9 528.0 136.4 526.0 135.9z"/><path d="M547.1 124.0 549.8 125.0 549.3 128.9 548.0 132.9 546.4 135.4 545.9 132.9 547.1 128.9z"/><path d="M558.8 125.4 562.7 123.0 566.7 125.4 565.7 129.9 563.2 133.9 560.8 129.9z"/><path d="M576.9 123.5 579.4 122.5 581.9 126.9 585.3 131.9 588.8 136.4 591.8 139.4 595.8 141.3 598.7 140.3 601.2 136.9 601.7 130.9 602.2 127.4 602.9 127.4 603.5 131.9 604.2 136.4 606.7 137.9 611.7 139.4 616.1 141.3 619.1 144.3 620.1 148.8 620.4 154.7 601.7 154.7 601.2 147.0 598.7 144.2 594.8 143.0 589.8 142.8 583.8 143.0 579.4 143.6 576.9 145.3 572.9 147.8 569.0 150.8 566.5 151.6 566.0 149.8 570.4 146.8 573.9 143.8 575.9 141.8 577.9 137.4 578.4 132.9 577.9 127.9z"/><path d="M610.7 118.0 629.5 118.0 629.5 119.0 617.6 119.2 611.7 118.8z"/><path d="M461.5 156.4 464.0 157.4 467.9 161.4 472.9 165.3 477.4 167.3 481.8 166.0 485.8 163.0 488.8 160.4 490.3 161.4 487.8 164.8 484.3 168.3 480.3 171.3 478.4 172.8 476.4 171.3 471.9 168.3 466.9 164.3 463.0 160.4z"/><path d="M499.7 154.9 502.2 157.4 505.7 158.9 510.6 159.4 515.1 157.9 517.1 154.9 518.6 157.4 522.5 159.1 526.0 159.4 526.0 176.7 516.6 176.7 515.1 169.8 511.6 166.0 507.7 163.0 503.7 161.1 500.2 159.9 498.2 158.4z"/><path d="M497.9 159.1 501.1 155.9 504.8 158.5 509.8 159.5 513.8 158.1 516.5 154.9 519.3 158.1 523.7 159.6 528.7 158.9 531.6 159.4 527.7 162.0 526.2 165.8 526.7 169.8 528.7 176.7 515.7 176.7 514.3 169.8 510.8 165.8 506.8 162.3 502.8 160.4z"/><path d="M526.0 156.4 531.0 154.9 533.9 156.4 536.9 158.9 540.9 163.3 545.9 166.0 550.8 166.0 554.8 165.3 557.3 167.3 558.3 176.7 555.8 176.7 555.3 170.3 551.8 168.8 545.9 168.3 540.9 166.0 536.9 162.3 533.9 160.4 530.0 161.4 526.0 162.8z"/><path d="M564.2 150.4 567.7 149.1 570.5 146.2 572.7 143.5 575.7 141.2 577.6 140.0 594.0 140.0 594.0 142.5 585.6 142.8 579.6 143.0 576.1 144.5 573.7 147.4 571.7 150.4 567.7 151.4z"/><path d="M579.1 176.7 579.6 168.8 581.6 165.8 585.6 165.3 589.6 164.8 594.0 163.3 594.0 176.7z"/><path d="M526.0 169.8 528.0 170.3 528.5 176.7 526.0 176.7z"/><path d="M575.9 140.0 620.6 140.0 620.1 151.7 601.7 151.7 601.7 147.0 599.7 144.0 596.8 142.8 577.9 142.5 573.9 144.5 570.9 147.9 568.0 149.9 565.5 150.4 565.0 148.9 569.0 146.5 571.9 143.0z"/><path d="M580.4 176.7 579.9 168.8 580.9 163.8 583.4 165.0 588.8 166.0 594.8 165.3 597.9 163.0 598.9 159.9 600.2 155.9 625.6 155.9 627.0 159.9 625.6 161.4 621.6 159.6 616.6 159.6 613.1 161.1 610.7 164.8 608.2 161.1 604.7 159.6 600.7 160.1 598.2 163.5 597.0 167.8 597.3 176.7z"/><path d="M627.0 159.4 629.5 158.9 629.5 176.7 627.5 176.7 626.5 165.8z"/></g><path fill="none" stroke="#555" stroke-width="2.0" stroke-linecap="round" stroke-linejoin="round" d="M555.8 89.0 564.2 88.2"/><path fill="none" stroke="#444" stroke-width="2.2" stroke-linecap="round" stroke-linejoin="round" d="M625.6 101.4 625.6 107.8"/><path fill="none" stroke="#111" stroke-width="2.5" stroke-linecap="round" stroke-linejoin="round" d="M499.7 131.9 499.8 137.9 498.9 142.3"/><path fill="none" stroke="#333" stroke-width="2.3" stroke-linecap="round" stroke-linejoin="round" d="M499.5 147.8 499.7 154.0"/><path fill="none" stroke="#333" stroke-width="2.3" stroke-linecap="round" stroke-linejoin="round" d="M499.7 147.9 500.7 154.9"/><path fill="none" stroke="#555" stroke-width="2.0" stroke-linecap="round" stroke-linejoin="round" d="M516.5 154.9 516.7 146.0"/><path fill="none" stroke="#444" stroke-width="2.2" stroke-linecap="round" stroke-linejoin="round" d="M531.6 158.9 534.1 152.9 532.6 146.0 532.8 140.0"/><path fill="none" stroke="#666" stroke-width="1.9" stroke-linecap="round" stroke-linejoin="round" d="M549.8 126.4 558.8 126.9"/><path fill="none" stroke="#666" stroke-width="1.9" stroke-linecap="round" stroke-linejoin="round" d="M566.7 126.4 577.6 125.9"/><path fill="none" stroke="#444" stroke-width="2.2" stroke-linecap="round" stroke-linejoin="round" d="M532.2 140.0 532.2 154.9"/><path fill="none" stroke="#bbb" stroke-width="1.5" stroke-linecap="round" stroke-linejoin="round" d="M463.0 136.4 463.0 154.0"/><path fill="none" stroke="#bbb" stroke-width="1.5" stroke-linecap="round" stroke-linejoin="round" d="M463.0 135.9 482.8 135.5"/></g></g></mask><radialGradient id="bgB" gradientUnits="userSpaceOnUse" cx="640" cy="185" r="90"><stop offset="0" stop-color="#bdbdbd"/><stop offset="0.5" stop-color="#a8a8a8"/><stop offset="1" stop-color="#9f9f9f"/></radialGradient><filter id="cmI" x="0" y="0" width="1" height="1" filterUnits="objectBoundingBox" color-interpolation-filters="sRGB"><feGaussianBlur in="SourceGraphic" stdDeviation="0.70" result="bl"/><feTurbulence type="fractalNoise" baseFrequency="0.80" numOctaves="2" seed="7" result="nz"/><feColorMatrix in="nz" type="matrix" values="0.040 0 0 0 0.480  0.040 0 0 0 0.480  0.040 0 0 0 0.480  0 0 0 0 1" result="nz2"/><feComposite in="bl" in2="nz2" operator="arithmetic" k1="0" k2="1" k3="1" k4="-0.5" result="bl2"/><feComponentTransfer><feFuncR type="table" tableValues="0.267 0.277 0.282 0.283 0.279 0.271 0.259 0.245 0.230 0.214 0.199 0.186 0.173 0.161 0.149 0.138 0.128 0.121 0.121 0.132 0.158 0.197 0.246 0.304 0.369 0.440 0.516 0.596 0.678 0.762 0.846 0.926 0.993"/><feFuncG type="table" tableValues="0.005 0.050 0.095 0.136 0.175 0.214 0.252 0.288 0.322 0.356 0.388 0.419 0.449 0.479 0.508 0.537 0.567 0.596 0.626 0.655 0.684 0.712 0.739 0.765 0.789 0.811 0.831 0.849 0.864 0.876 0.887 0.897 0.906"/><feFuncB type="table" tableValues="0.329 0.376 0.417 0.453 0.483 0.507 0.525 0.537 0.546 0.551 0.555 0.557 0.558 0.558 0.557 0.555 0.551 0.544 0.533 0.520 0.502 0.479 0.452 0.420 0.383 0.341 0.294 0.243 0.190 0.137 0.100 0.104 0.144"/><feFuncA type="linear" slope="0" intercept="1"/></feComponentTransfer></filter><filter id="thI1" x="0" y="0" width="1" height="1" color-interpolation-filters="sRGB"><feGaussianBlur in="SourceGraphic" stdDeviation="1.10" result="m"/><feTurbulence type="fractalNoise" baseFrequency="0.210" numOctaves="1" seed="11" result="n"/><feColorMatrix in="n" type="matrix" values="4.200 0 0 0 -1.600  4.200 0 0 0 -1.600  4.200 0 0 0 -1.600  0 0 0 0 1" result="n2"/><feComposite in="m" in2="n2" operator="arithmetic" k1="0" k2="1" k3="1" k4="-0.5" result="c"/><feComponentTransfer in="c"><feFuncR type="linear" slope="4.50" intercept="-1.615"/><feFuncG type="linear" slope="4.50" intercept="-1.615"/><feFuncB type="linear" slope="4.50" intercept="-1.615"/><feFuncA type="linear" slope="0" intercept="1"/></feComponentTransfer></filter><filter id="thI2" x="0" y="0" width="1" height="1" color-interpolation-filters="sRGB"><feGaussianBlur in="SourceGraphic" stdDeviation="1.10" result="m"/><feTurbulence type="fractalNoise" baseFrequency="0.210" numOctaves="1" seed="23" result="n"/><feColorMatrix in="n" type="matrix" values="4.200 0 0 0 -1.600  4.200 0 0 0 -1.600  4.200 0 0 0 -1.600  0 0 0 0 1" result="n2"/><feComposite in="m" in2="n2" operator="arithmetic" k1="0" k2="1" k3="1" k4="-0.5" result="c"/><feComponentTransfer in="c"><feFuncR type="linear" slope="4.50" intercept="-1.615"/><feFuncG type="linear" slope="4.50" intercept="-1.615"/><feFuncB type="linear" slope="4.50" intercept="-1.615"/><feFuncA type="linear" slope="0" intercept="1"/></feComponentTransfer></filter><clipPath id="clipI1"><rect x="191.9" y="208.8" width="63.7" height="62.4"/></clipPath><clipPath id="clipI2"><rect x="365.7" y="143.0" width="64.5" height="63.7"/></clipPath><linearGradient id="i2g" gradientUnits="userSpaceOnUse" x1="365" y1="0" x2="421" y2="0"><stop offset="0" stop-color="#8f8f8f"/><stop offset="0.5" stop-color="#a1a1a1"/><stop offset="1" stop-color="#d1d1d1"/></linearGradient><linearGradient id="i2d" gradientUnits="userSpaceOnUse" x1="365" y1="0" x2="430" y2="0"><stop offset="0" stop-color="#212121"/><stop offset="0.45" stop-color="#1a1a1a"/><stop offset="0.75" stop-color="#454545"/><stop offset="0.86" stop-color="#6b6b6b"/><stop offset="0.9" stop-color="#6e6e6e"/><stop offset="1" stop-color="#4c4c4c"/></linearGradient><linearGradient id="i2r" gradientUnits="userSpaceOnUse" x1="421.6" y1="0" x2="430.5" y2="0"><stop offset="0" stop-color="#6b6b6b"/><stop offset="0.2" stop-color="#6e6e6e"/><stop offset="1" stop-color="#4a4a4a"/></linearGradient><mask id="mI1" maskUnits="userSpaceOnUse" x="185.9" y="202.8" width="75.7" height="74.4"><g filter="url(#thI1)"><rect x="185.9" y="202.8" width="75.7" height="74.4" fill="#fff"/><g fill="#000" stroke="#000" stroke-width="1.2" stroke-linejoin="round"><path d="M192.5 210.0 197.0 210.5 197.4 213.9 195.5 216.9 193.0 217.4z"/><path d="M207.4 212.5 211.4 211.5 213.8 214.4 212.3 218.4 208.9 218.9 206.9 215.9z"/><path d="M216.3 211.0 219.8 210.5 222.8 213.0 226.2 215.9 226.7 219.4 222.8 219.9 218.8 217.9 216.3 214.9z"/><path d="M229.2 210.0 232.7 210.5 232.2 213.9 229.7 213.4z"/><path d="M242.1 210.5 245.6 210.0 249.6 212.0 248.6 215.4 244.6 215.9 242.1 213.4z"/><path d="M246.1 219.4 250.6 218.9 252.1 222.4 249.6 225.9 246.6 224.9z"/><path d="M219.8 223.4 223.8 222.9 224.8 227.4 223.3 231.8 220.3 230.8z"/><path d="M207.4 224.4 210.9 223.9 211.4 228.3 208.9 229.8 207.4 227.8z"/><path d="M234.2 226.9 237.7 225.9 239.2 229.8 237.7 234.3 234.7 233.8z"/><path d="M228.2 228.3 231.2 227.8 231.7 234.8 228.7 235.8z"/><path d="M197.9 230.3 203.4 229.8 203.9 233.8 199.9 235.3z"/><path d="M192.5 218.9 195.0 219.9 194.5 223.9 192.5 224.4z"/><path d="M200.4 217.4 203.4 217.9 202.9 220.9 200.9 220.9z"/><path d="M236.7 236.8 242.6 235.8 244.1 239.8 241.6 242.0 237.7 242.0z"/><path d="M196.0 237.3 199.4 236.3 200.4 239.8 198.9 242.0 196.5 242.0z"/><path d="M212.3 234.8 215.8 234.3 216.3 238.8 213.3 240.3z"/><path d="M224.3 238.3 229.2 237.3 230.2 242.0 224.8 242.0z"/><path d="M203.9 239.3 207.4 238.8 207.9 242.0 204.4 242.0z"/><path d="M252.1 230.8 255.5 230.8 255.5 238.8 252.6 237.8z"/><path d="M214.3 244.0 217.3 245.0 218.8 248.9 218.3 253.9 219.8 257.9 216.8 258.9 214.8 254.9 213.8 249.9z"/><path d="M223.8 251.9 227.7 254.9 232.7 252.9 236.7 250.9 238.7 252.9 236.7 255.9 231.7 257.9 226.7 258.9 223.8 256.9z"/><path d="M244.1 246.4 248.6 245.9 249.6 249.4 246.6 251.4 244.1 249.9z"/><path d="M245.1 257.4 248.6 256.9 249.6 260.8 247.6 264.3 245.1 262.8z"/><path d="M192.5 252.9 196.0 253.9 197.4 256.9 195.0 258.4 192.5 257.4z"/><path d="M208.4 256.4 211.8 255.9 212.3 260.3 209.4 261.8z"/><path d="M200.9 266.3 205.9 265.8 207.4 268.8 204.9 271.1 201.4 271.1z"/><path d="M216.3 262.3 219.3 261.8 220.3 266.8 217.3 267.8z"/><path d="M232.7 261.8 236.7 260.8 238.2 264.8 236.2 267.8 233.2 266.8z"/><path d="M249.6 266.8 254.1 265.8 255.0 271.1 250.1 271.1z"/><path d="M236.7 238.0 242.6 238.0 243.1 242.0 239.7 244.0 237.2 242.0z"/><path d="M226.2 242.0 229.7 241.5 230.2 245.9 227.2 246.9z"/><path d="M192.2 267.3 195.5 267.8 196.0 271.1 192.2 271.1z"/><path d="M253.1 247.9 255.5 247.9 255.5 254.9 253.6 254.4z"/></g></g></mask><mask id="mI2" maskUnits="userSpaceOnUse" x="359.7" y="137.0" width="76.5" height="75.7"><g filter="url(#thI2)"><rect x="359.7" y="137.0" width="76.5" height="75.7" fill="#fff"/><g fill="#000" stroke="#000" stroke-width="1.2" stroke-linejoin="round"><path d="M387.3 146.0 391.8 145.5 393.8 148.9 392.8 153.9 390.8 157.4 387.8 155.9 386.3 150.9z"/><path d="M368.0 156.9 373.9 155.4 377.4 157.4 376.9 161.4 372.9 162.3 369.0 161.4z"/><path d="M379.9 167.8 384.9 166.3 388.8 168.8 389.3 173.8 387.8 176.0 379.9 176.0 378.9 171.8z"/><path d="M366.2 162.8 369.5 163.3 370.0 167.8 368.0 169.8 366.2 169.3z"/><path d="M396.8 147.0 400.7 146.5 401.7 149.4 397.8 150.4z"/><path d="M403.2 149.4 408.7 148.9 409.2 152.4 403.7 152.9z"/><path d="M406.7 162.3 410.7 161.4 411.7 166.8 408.2 168.3z"/><path d="M397.3 164.8 401.2 164.3 401.7 168.3 398.3 169.3z"/><path d="M376.9 145.5 380.4 146.0 379.9 149.9 377.4 149.9z"/><path d="M393.3 158.9 396.8 158.4 397.3 162.3 393.8 162.8z"/><path d="M402.7 169.8 406.7 169.3 407.2 176.0 403.2 176.0z"/><path d="M408.2 161.4 413.7 160.4 419.1 161.4 419.6 168.8 415.6 169.8 410.7 169.3 407.7 166.8z"/><path d="M421.6 141.0 421.6 143.0 421.1 150.0 422.0 154.0 421.0 159.0 416.6 161.4 415.6 165.8 416.1 169.8 418.1 172.8 419.6 175.0 416.6 178.0 416.1 181.4 419.6 183.9 419.6 186.9 418.6 192.9 419.1 198.8 419.1 208.0 436.0 208.0 436.0 141.0z"/><path d="M379.9 173.0 388.8 173.0 389.3 178.0 387.3 181.9 383.9 182.9 380.9 180.0 378.9 176.0z"/><path d="M368.5 174.5 372.9 174.0 373.4 177.0 371.0 179.0 368.5 178.0z"/><path d="M371.4 189.4 375.9 188.4 377.4 192.4 375.4 196.3 371.9 195.3z"/><path d="M383.4 192.4 389.8 191.9 391.3 195.3 387.8 197.3 383.9 196.3z"/><path d="M394.8 183.9 399.3 183.4 400.2 186.9 396.8 188.4 394.8 186.9z"/><path d="M404.7 181.4 408.7 181.4 409.2 184.4 405.2 184.9z"/><path d="M393.8 196.3 398.3 195.8 399.3 199.8 395.8 201.3 393.8 199.3z"/><path d="M377.4 182.9 381.4 182.4 381.9 186.4 377.9 186.9z"/><path d="M372.4 202.8 377.4 202.3 378.4 206.6 372.4 206.6z"/><path d="M391.3 203.8 396.3 203.3 396.8 206.6 391.3 206.6z"/><path d="M366.0 187.9 368.0 188.9 368.0 195.8 366.0 196.3z"/><path d="M405.7 197.8 410.7 197.3 411.2 202.8 406.2 202.8z"/><path d="M411.7 177.0 415.6 176.5 416.1 181.9 412.2 181.9z"/><path d="M412.7 188.9 416.6 188.4 417.1 192.9 413.2 193.4z"/></g></g></mask>
</defs>

<g opacity="0.999">
<g stroke="#cfcfcf" stroke-width="0.9" fill="none">
<line x1="82.5" y1="13.5" x2="82.5" y2="292.4"/>
<line x1="160.9" y1="13.5" x2="160.9" y2="292.4"/>
<line x1="239.4" y1="13.5" x2="239.4" y2="292.4"/>
<line x1="317.9" y1="13.5" x2="317.9" y2="292.4"/>
<line x1="396.3" y1="13.5" x2="396.3" y2="292.4"/>
<line x1="68.5" y1="264.3" x2="444.1" y2="264.3"/>
<line x1="68.5" y1="208.5" x2="444.1" y2="208.5"/>
<line x1="68.5" y1="152.8" x2="444.1" y2="152.8"/>
<line x1="68.5" y1="97.0" x2="444.1" y2="97.0"/>
<line x1="68.5" y1="41.3" x2="444.1" y2="41.3"/>
</g>
<polyline points="85.4,263.0 88.1,255.0 88.6,245.0 89.2,215.0 90.6,182.3 92.0,174.5 94.3,169.5 97.2,165.5 100.7,162.8 116.1,156.4 130.8,153.1 145.9,150.8 160.9,148.5 176.1,146.6 191.2,144.5 206.3,142.9 221.5,141.4 236.4,139.9 251.5,138.6 266.6,137.1 281.8,135.7 296.9,134.4 312.1,133.0 327.0,131.8 342.1,130.3 357.2,126.4 372.4,121.5 387.5,117.2 402.6,112.2 417.8,106.5 427.9,102.0" fill="none" stroke="#cd5c5c" stroke-width="1.5" stroke-linejoin="round"/>
<g fill="#fdeeee" stroke="#cd5c5c" stroke-width="1">
<circle cx="85.4" cy="263.0" r="2.85"/>
<circle cx="100.7" cy="162.8" r="2.85"/>
<circle cx="116.1" cy="156.4" r="2.85"/>
<circle cx="130.8" cy="153.1" r="2.85"/>
<circle cx="145.9" cy="150.8" r="2.85"/>
<circle cx="160.9" cy="148.5" r="2.85"/>
<circle cx="176.1" cy="146.6" r="2.85"/>
<circle cx="191.2" cy="144.5" r="2.85"/>
<circle cx="206.3" cy="142.9" r="2.85"/>
<circle cx="221.5" cy="141.4" r="2.85"/>
<circle cx="236.4" cy="139.9" r="2.85"/>
<circle cx="251.5" cy="138.6" r="2.85"/>
<circle cx="266.6" cy="137.1" r="2.85"/>
<circle cx="281.8" cy="135.7" r="2.85"/>
<circle cx="296.9" cy="134.4" r="2.85"/>
<circle cx="312.1" cy="133.0" r="2.85"/>
<circle cx="327.0" cy="131.8" r="2.85"/>
<circle cx="342.1" cy="130.3" r="2.85"/>
<circle cx="357.2" cy="126.4" r="2.85"/>
<circle cx="372.4" cy="121.5" r="2.85"/>
<circle cx="387.5" cy="117.2" r="2.85"/>
<circle cx="402.6" cy="112.2" r="2.85"/>
<circle cx="417.8" cy="106.5" r="2.85"/>
</g>
<polyline points="96.8,292.5 97.3,280.0 98.1,265.0 99.0,252.0 100.2,241.1 102.2,225.5 104.9,209.6 108.9,189.7 112.6,173.5 115.4,166.3 119.5,153.5 124.3,142.0 130.8,130.4 137.5,121.0 145.9,114.0 160.9,103.3 176.1,94.7 191.0,87.3 206.2,81.1 221.3,76.4 236.4,72.5 251.6,68.5 266.7,65.0 281.6,61.3 297.0,57.8 311.9,54.6 327.0,51.9 342.0,48.6 357.1,45.9 372.3,43.4 387.4,40.9 402.3,38.7 417.7,36.7 427.4,35.7" fill="none" stroke="#6a5acd" stroke-width="2.1" stroke-linejoin="round"/>
<g fill="#a9c9ea" stroke="#6a5acd" stroke-width="0.9" stroke-linejoin="miter">
<path d="M96.7 237.9h7l-3.5 6.7z"/>
<path d="M111.9 163.1h7l-3.5 6.7z"/>
<path d="M127.3 127.2h7l-3.5 6.7z"/>
<path d="M142.4 110.8h7l-3.5 6.7z"/>
<path d="M157.4 100.1h7l-3.5 6.7z"/>
<path d="M172.6 91.5h7l-3.5 6.7z"/>
<path d="M187.5 84.1h7l-3.5 6.7z"/>
<path d="M202.7 77.9h7l-3.5 6.7z"/>
<path d="M217.8 73.2h7l-3.5 6.7z"/>
<path d="M232.9 69.3h7l-3.5 6.7z"/>
<path d="M248.1 65.3h7l-3.5 6.7z"/>
<path d="M263.2 61.8h7l-3.5 6.7z"/>
<path d="M278.1 58.1h7l-3.5 6.7z"/>
<path d="M293.5 54.6h7l-3.5 6.7z"/>
<path d="M308.4 51.4h7l-3.5 6.7z"/>
<path d="M323.5 48.7h7l-3.5 6.7z"/>
<path d="M338.5 45.4h7l-3.5 6.7z"/>
<path d="M353.6 42.7h7l-3.5 6.7z"/>
<path d="M368.8 40.2h7l-3.5 6.7z"/>
<path d="M383.9 37.7h7l-3.5 6.7z"/>
<path d="M398.8 35.5h7l-3.5 6.7z"/>
<path d="M414.2 33.5h7l-3.5 6.7z"/>
</g>
<g clip-path="url(#clipI1)"><g filter="url(#cmI)"><rect x="186.9" y="203.8" width="73.7" height="72.4" fill="#121212"/><rect x="186.9" y="203.8" width="73.7" height="72.4" fill="#9c9c9c" mask="url(#mI1)"/></g></g><g clip-path="url(#clipI2)"><g filter="url(#cmI)"><rect x="360.7" y="138.0" width="74.5" height="73.7" fill="url(#i2d)"/><rect x="360.7" y="138.0" width="74.5" height="73.7" fill="url(#i2g)" mask="url(#mI2)"/><rect x="421.6" y="138" width="16" height="75" fill="url(#i2r)"/></g></g>
<g stroke="#000" stroke-width="1.4" fill="#000">
<line x1="103.7" y1="242.8" x2="180.3" y2="242.8"/>
<path stroke="none" d="M99.5 242.8l5.2 -2.7v5.4z"/>
<line x1="266.9" y1="242.8" x2="335.1" y2="242.8"/>
<path stroke="none" d="M339.3 242.8l-5.2 -2.7v5.4z"/>
<line x1="354.4" y1="136.1" x2="436.4" y2="136.1"/>
<path stroke="none" d="M350.2 136.1l5.2 -2.7v5.4z"/>
<path stroke="none" d="M440.6 136.1l-5.2 -2.7v5.4z"/>
</g>
<rect x="68.5" y="13.5" width="375.6" height="278.9" fill="none" stroke="#000" stroke-width="0.8"/>
<g stroke="#222" stroke-width="0.8">
<line x1="82.5" y1="292.4" x2="82.5" y2="295.4"/>
<line x1="160.9" y1="292.4" x2="160.9" y2="295.4"/>
<line x1="239.4" y1="292.4" x2="239.4" y2="295.4"/>
<line x1="317.9" y1="292.4" x2="317.9" y2="295.4"/>
<line x1="396.3" y1="292.4" x2="396.3" y2="295.4"/>
<line x1="65.5" y1="264.3" x2="68.5" y2="264.3"/>
<line x1="65.5" y1="208.5" x2="68.5" y2="208.5"/>
<line x1="65.5" y1="152.8" x2="68.5" y2="152.8"/>
<line x1="65.5" y1="97.0" x2="68.5" y2="97.0"/>
<line x1="65.5" y1="41.3" x2="68.5" y2="41.3"/>
</g>
<g font-size="21.9" text-anchor="end">
<text x="62" y="272.0">0.86</text>
<text x="62" y="216.2">0.88</text>
<text x="62" y="160.5">0.90</text>
<text x="62" y="104.7">0.92</text>
<text x="62" y="49.0">0.94</text>
</g>
<g font-size="21.9" text-anchor="middle">
<text x="82.5" y="313.7">0</text>
<text x="160.9" y="313.7">25000</text>
<text x="239.4" y="313.7">50000</text>
<text x="317.9" y="313.7">75000</text>
<text x="396.3" y="313.7">100000</text>
</g>
<text x="256.6" y="337" font-size="21.9" text-anchor="middle"># Training dataset</text>
<text transform="translate(15.6,153.4) rotate(-90)" font-size="21.9" text-anchor="middle">Structural Similarity</text>
<text x="5.2" y="19.9" font-size="26.8">a</text>
<rect x="76.4" y="21.3" width="96" height="49.7" rx="2.5" fill="#fff" fill-opacity="0.8" stroke="#ccc" stroke-width="0.9"/>
<line x1="82" y1="33.1" x2="116" y2="33.1" stroke="#6a5acd" stroke-width="2.1"/>
<path d="M95.5 29.9h7l-3.5 6.7z" fill="#a9c9ea" stroke="#6a5acd" stroke-width="0.9"/>
<line x1="82" y1="55.8" x2="116" y2="55.8" stroke="#cd5c5c" stroke-width="1.5"/>
<circle cx="99" cy="55.8" r="2.85" fill="#fdeeee" stroke="#cd5c5c" stroke-width="1"/>
<text x="127.6" y="39" font-size="15.7">area b</text>
<text x="127.6" y="61.8" font-size="15.7">area c</text>
<g clip-path="url(#clipB)"><g filter="url(#cmB)"><rect x="450.2" y="-5.0" width="187.3" height="187.0" fill="#090909"/><rect x="450.2" y="-5.0" width="187.3" height="187.0" fill="url(#bgB)" mask="url(#mB)"/><rect x="450.2" y="-5.0" width="187.3" height="187.0" fill="#b4b4b4" opacity="0.75" mask="url(#mB2)"/></g></g>
<rect x="457" y="0" width="26.9" height="28.6" fill="#fff"/>
<text x="464.0" y="23.3" font-size="27.6">b</text>
<rect x="598.4" y="151.6" width="27.1" height="4" fill="#fff"/>
<g clip-path="url(#clipC)"><g filter="url(#cmC)"><rect x="449.8" y="180.7" width="187.3" height="186.9" fill="url(#bgC)"/><rect x="469.5" y="160" width="190" height="192.5" rx="12" fill="none" stroke="#5c5c5c" stroke-opacity="0.42" stroke-width="4" filter="url(#frameC)"/><path d="M484 189.6 H628.4 V300" fill="none" stroke="#5c5c5c" stroke-opacity="0.5" stroke-width="2.4" filter="url(#frameC)"/><rect x="509" y="150" width="84" height="250" fill="#292929" opacity="0.97" filter="url(#bandC)"/><g filter="url(#haloC)" opacity="0.9"><g fill="none" stroke="#242424" stroke-linecap="round" stroke-linejoin="round"><path d="M521.3 184 Q521.3 195.4 543 195.4 Q564.7 195.4 564.7 184" stroke-width="19.2"/><path d="M561.5 209.7 H542.5 Q536.3 209.7 536.3 215.7 V225 Q536.3 231 542.5 231 H561.5" stroke-width="19.4"/><path d="M565.0 246.6 H543.6 Q538 246.6 538 253 V281.6 Q538 288.3 543.6 288.3 H565.8 M538 267.4 H563.8" stroke-width="20.0"/><path d="M525.2 324 H566.4" stroke-width="19.4"/></g><g fill="#242424" stroke="#242424" stroke-width="7.0"><ellipse cx="543.4" cy="349" rx="12.2" ry="17.3" transform="rotate(14 543.4 349)"/><ellipse cx="562.8" cy="349" rx="11.6" ry="17.6" transform="rotate(14 562.8 349)"/></g></g><g fill="none" stroke="#e6e6e6" stroke-linecap="round" stroke-linejoin="round"><path d="M521.3 184 Q521.3 195.4 543 195.4 Q564.7 195.4 564.7 184" stroke-width="12.2"/><path d="M561.5 209.7 H542.5 Q536.3 209.7 536.3 215.7 V225 Q536.3 231 542.5 231 H561.5" stroke-width="12.4"/><path d="M565.0 246.6 H543.6 Q538 246.6 538 253 V281.6 Q538 288.3 543.6 288.3 H565.8 M538 267.4 H563.8" stroke-width="13.0"/><path d="M525.2 324 H566.4" stroke-width="12.4"/></g><g fill="#dedede" stroke="#dedede" stroke-width="0.0"><ellipse cx="543.4" cy="349" rx="12.2" ry="17.3" transform="rotate(14 543.4 349)"/><ellipse cx="562.8" cy="349" rx="11.6" ry="17.6" transform="rotate(14 562.8 349)"/></g><ellipse cx="543.8" cy="346.8" rx="1.5" ry="5.8" transform="rotate(22 543.8 346.8)" fill="#404040"/><ellipse cx="565.0" cy="346.2" rx="2.9" ry="6.4" transform="rotate(22 565 346.2)" fill="#5c5c5c"/></g></g>
<rect x="456" y="186" width="27.8" height="26.2" fill="#fff"/>
<text x="463.8" y="202.9" font-size="27">c</text>
<rect x="600.3" y="337.1" width="25.3" height="3.9" fill="#fff"/>
<rect x="641.3" y="3.1" width="8.7" height="170.5" fill="url(#vir)" stroke="#333" stroke-width="0.4"/>
<line x1="650" y1="18.4" x2="652.2" y2="18.4" stroke="#222" stroke-width="0.6"/>
<text x="653.6" y="23.3" font-size="13.6">2</text>
<line x1="650" y1="70.1" x2="652.2" y2="70.1" stroke="#222" stroke-width="0.6"/>
<text x="653.6" y="75.0" font-size="13.6">1</text>
<line x1="650" y1="121.8" x2="652.2" y2="121.8" stroke="#222" stroke-width="0.6"/>
<text x="653.6" y="126.7" font-size="13.6">0</text>
<line x1="650" y1="173.5" x2="652.2" y2="173.5" stroke="#222" stroke-width="0.6"/>
<text x="653.6" y="178.4" font-size="13.6">−1</text>
<text transform="translate(679.8,92.8) rotate(-90)" font-size="19.3" text-anchor="middle">phase (rad)</text>
<rect x="641.3" y="188.8" width="8.7" height="170.9" fill="url(#vir)" stroke="#333" stroke-width="0.4"/>
<line x1="650" y1="204.0" x2="652.2" y2="204.0" stroke="#222" stroke-width="0.6"/>
<text x="653.6" y="208.9" font-size="13.6">2</text>
<line x1="650" y1="255.8" x2="652.2" y2="255.8" stroke="#222" stroke-width="0.6"/>
<text x="653.6" y="260.7" font-size="13.6">1</text>
<line x1="650" y1="307.6" x2="652.2" y2="307.6" stroke="#222" stroke-width="0.6"/>
<text x="653.6" y="312.5" font-size="13.6">0</text>
<line x1="650" y1="359.4" x2="652.2" y2="359.4" stroke="#222" stroke-width="0.6"/>
<text x="653.6" y="364.3" font-size="13.6">−1</text>
<text transform="translate(679.8,278.6) rotate(-90)" font-size="19.3" text-anchor="middle">phase (rad)</text>
</g></svg></body></html>
